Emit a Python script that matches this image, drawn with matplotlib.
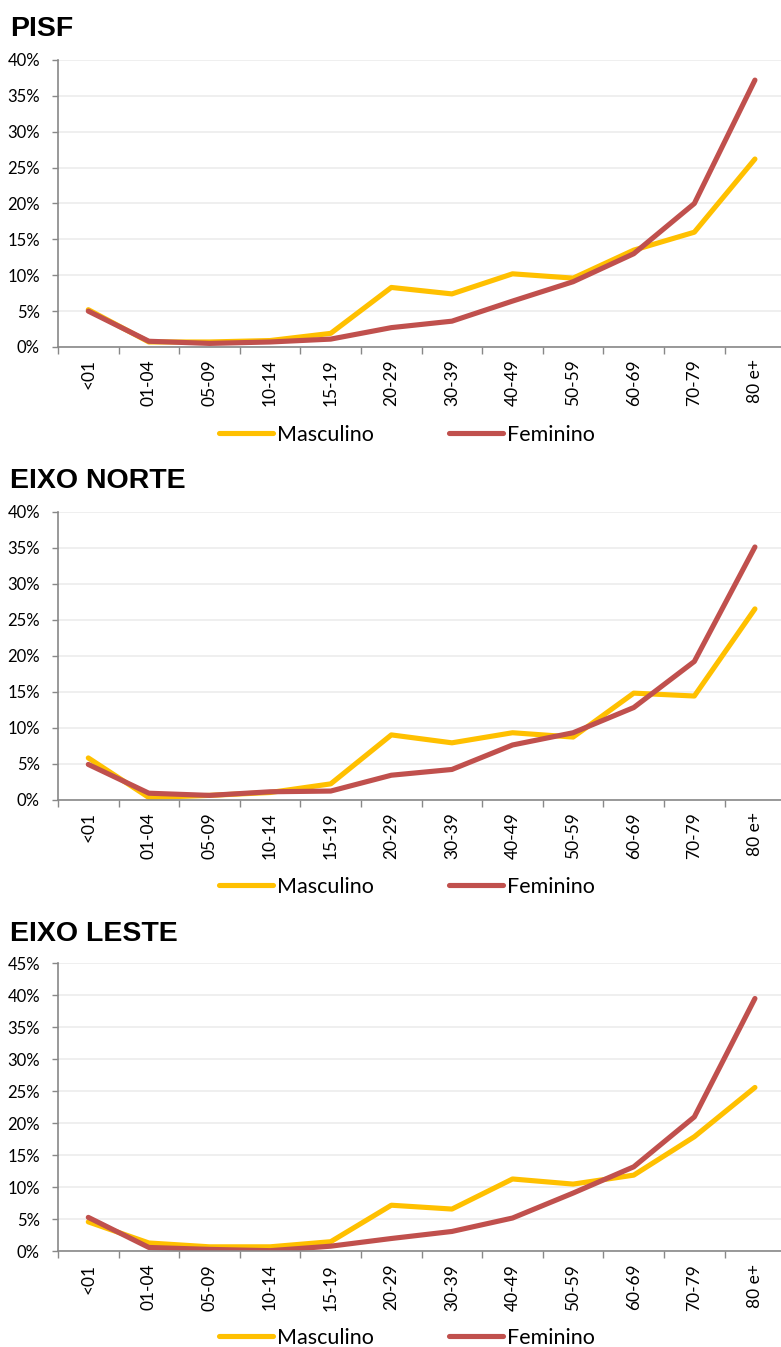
import matplotlib
matplotlib.use("Agg")
import matplotlib.pyplot as plt
from matplotlib.ticker import FuncFormatter, FixedLocator

plt.rcParams['font.family'] = ['Lato', 'DejaVu Sans']

# Faixas etárias
faixas = ['<01', '01-04', '05-09', '10-14', '15-19', '20-29', '30-39',
          '40-49', '50-59', '60-69', '70-79', '80 e+']

# PISF
pisf_masc = [5.2, 0.7, 0.7, 0.9, 1.9, 8.3, 7.4, 10.2, 9.6, 13.5, 16.0, 26.2]
pisf_fem = [5.0, 0.8, 0.5, 0.7, 1.1, 2.7, 3.6, 6.4, 9.1, 13.0, 20.0, 37.2]

# Eixo Norte
norte_masc = [5.8, 0.3, 0.6, 1.0, 2.2, 9.0, 7.9, 9.3, 8.7, 14.8, 14.4, 26.5]
norte_fem = [4.9, 0.9, 0.6, 1.1, 1.2, 3.4, 4.2, 7.6, 9.3, 12.8, 19.2, 35.1]

# Eixo Leste
leste_masc = [4.6, 1.3, 0.7, 0.7, 1.5, 7.2, 6.6, 11.3, 10.5, 11.9, 17.9, 25.6]
leste_fem = [5.3, 0.6, 0.3, 0.1, 0.8, 2.0, 3.1, 5.2, 9.1, 13.2, 21.0, 39.5]

titulos = ['PISF', 'EIXO NORTE', 'EIXO LESTE']
ymax = [40, 40, 45]

COR_MASC = '#FFC000'
COR_FEM = '#C0504D'

W, H = 781, 1347


# Desenha um painel
def painel(fig, rect, titulo, titulo_y, leg_y, masc, fem, ylim):
    ax = fig.add_axes(rect)
    x = range(len(faixas))
    ax.plot(x, masc, color=COR_MASC, lw=3.7, solid_capstyle='round', label='Masculino')
    ax.plot(x, fem, color=COR_FEM, lw=3.7, solid_capstyle='round', label='Feminino')

    ax.set_xlim(-0.5, 11.43)
    ax.set_ylim(0, ylim)
    ax.set_yticks(range(0, ylim + 1, 5))
    ax.yaxis.set_major_formatter(FuncFormatter(lambda v, p: f'{int(v)}%'))
    ax.grid(axis='y', color='#EEEEEE', lw=1.3)
    ax.set_axisbelow(True)

    ax.set_xticks(list(x))
    ax.set_xticklabels(faixas, rotation=90)
    ax.xaxis.set_minor_locator(FixedLocator([i - 0.5 for i in range(len(faixas) + 1)]))
    ax.tick_params(axis='x', which='major', length=0, pad=9, labelsize=12.5)
    ax.tick_params(axis='x', which='minor', length=5, color='#888888', width=1)
    ax.tick_params(axis='y', length=4.5, color='#888888', width=1, labelsize=12, pad=8.5)

    for s in ['top', 'right']:
        ax.spines[s].set_visible(False)
    for s in ['left', 'bottom']:
        ax.spines[s].set_color('#888888')
        ax.spines[s].set_linewidth(1.2)

    fig.text(10 / W, 1 - titulo_y / H, titulo, fontsize=20.5, fontweight='bold',
             family=['Liberation Sans', 'DejaVu Sans'], va='baseline', ha='left')

    ax.legend(loc='center', bbox_to_anchor=(0.521, 1 - leg_y / H), bbox_transform=fig.transFigure,
              ncol=2, frameon=False, fontsize=15.5, handlelength=2.5, handletextpad=0.2,
              columnspacing=3.5, borderpad=0)
    return ax


def main():
    fig = plt.figure(figsize=(W / 100, H / 100), dpi=100)
    left = 58 / W
    width = 1 - left
    painel(fig, [left, 1 - 347 / H, width, 287 / H], titulos[0], 36, 435,
           pisf_masc, pisf_fem, ymax[0])
    painel(fig, [left, 1 - 799.7 / H, width, 288 / H], titulos[1], 488, 887,
           norte_masc, norte_fem, ymax[1])
    painel(fig, [left, 1 - 1251.3 / H, width, 288 / H], titulos[2], 941, 1338,
           leste_masc, leste_fem, ymax[2])
    fig.savefig('out.png', dpi=100)


if __name__ == "__main__":
    main()
